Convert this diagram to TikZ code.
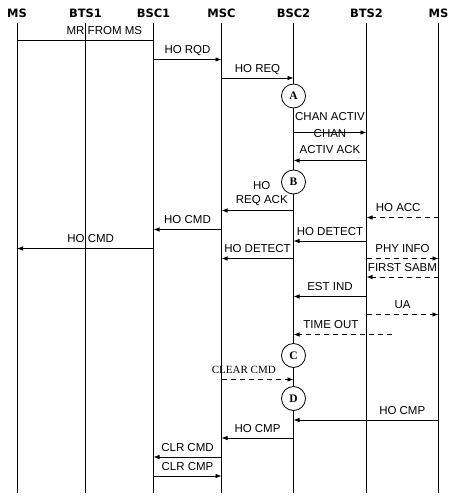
\documentclass[tikz,border=0pt]{standalone}
\usepackage{fontspec}
\setmainfont{Liberation Sans}
\newfontfamily\headfont{DejaVu Sans}
\newfontfamily\seriffont{Liberation Serif}
\usetikzlibrary{arrows.meta}
\begin{document}
\begin{tikzpicture}[x=1pt,y=-1pt,>={Latex[length=6pt,width=4.5pt]},
    head/.style={font=\headfont\bfseries\fontsize{11.5}{12}\selectfont,inner sep=0pt},
    life/.style={line width=0.8pt},
    msg/.style={line width=0.8pt,->},
    lost/.style={msg,dash pattern=on 5pt off 4pt},
    lbl/.style={above=4.5pt,inner sep=1pt,text depth=0pt,font=\fontsize{11.5}{14}\selectfont},
    twoline/.style={lbl,above=1.5pt,align=center},
    phase/.style={circle,draw,line width=0.8pt,fill=white,minimum size=24pt,inner sep=0pt,
      font=\seriffont\bfseries\fontsize{11.5}{11.5}\selectfont}]
  \fill[white] (0,0) rectangle (457,499);
  \useasboundingbox (0,0) rectangle (457,499);
  % lifelines
  \foreach \n/\x/\t in {ms1/17/MS,bts1/85.5/BTS1,bsc1/153.5/BSC1,msc/221.5/MSC,
      bsc2/293.5/BSC2,bts2/366.5/BTS2,ms2/438.5/MS}{
    \node[head] (h\n) at (\x,13) {\t};
    \coordinate (\n) at (\x,23);
    \coordinate (\n e) at (\x,493);
    \draw[life] (\n) -- (\n e);
  }
  % messages
  \draw[life] (ms1 |- 0,40.5) -- node[lbl,pos=0.64] {MR FROM MS} (bsc1 |- 0,40.5);
  \draw[msg] (bsc1 |- 0,59.5) -- node[lbl] {HO RQD} (msc |- 0,59.5);
  \draw[msg] (msc |- 0,78) -- node[lbl] {HO REQ} (bsc2 |- 0,78);
  \node[phase] (pA) at (bsc2 |- 0,96) {A};
  \draw[msg] (bsc2 |- 0,132.5) -- node[lbl,above=6.5pt] {CHAN ACTIV} (bts2 |- 0,132.5);
  \draw[msg] (bts2 |- 0,160.5) -- node[twoline,font=\fontsize{11.5}{16}\selectfont] {CHAN\\ACTIV ACK} (bsc2 |- 0,160.5);
  \node[phase] (pB) at (bsc2 |- 0,182) {B};
  \draw[msg] (bsc2 |- 0,210.5) -- node[twoline,pos=0.44] {HO\\REQ ACK} (msc |- 0,210.5);
  \draw[lost] (ms2 |- 0,217.5) -- node[lbl,pos=0.56] {HO ACC} (bts2 |- 0,217.5);
  \draw[msg] (msc |- 0,229.5) -- node[lbl] {HO CMD} (bsc1 |- 0,229.5);
  \draw[msg] (bts2 |- 0,241) -- node[lbl] {HO DETECT} (bsc2 |- 0,241);
  \draw[msg] (bsc1 |- 0,248.5) -- node[lbl,pos=0.46] {HO CMD} (ms1 |- 0,248.5);
  \draw[msg] (bsc2 |- 0,258.5) -- node[lbl] {HO DETECT} (msc |- 0,258.5);
  \draw[lost] (bts2 |- 0,258.5) -- node[lbl] {PHY INFO} (ms2 |- 0,258.5);
  \draw[lost] (ms2 |- 0,277) -- node[lbl] {FIRST SABM} (bts2 |- 0,277);
  \draw[msg] (bts2 |- 0,296.5) -- node[lbl] {EST IND} (bsc2 |- 0,296.5);
  \draw[lost] (bts2 |- 0,314.5) -- node[lbl] {UA} (ms2 |- 0,314.5);
  \coordinate (tmr) at (392,334.5);
  \draw[lost] (tmr) -- node[lbl,pos=0.62] {TIME OUT} (bsc2 |- tmr);
  \node[phase] (pC) at (bsc2 |- 0,355.5) {C};
  \draw[lost] (msc |- 0,379.5) -- node[lbl,pos=0.31,font=\seriffont\fontsize{11}{12}\selectfont] {CLEAR CMD} (bsc2 |- 0,379.5);
  \node[phase] (pD) at (bsc2 |- 0,398.5) {D};
  \draw[msg] (ms2 |- 0,420) -- node[lbl,pos=0.25] {HO CMP} (bsc2 |- 0,420);
  \draw[msg] (bsc2 |- 0,438) -- node[lbl] {HO CMP} (msc |- 0,438);
  \draw[msg] (msc |- 0,457) -- node[lbl] {CLR CMD} (bsc1 |- 0,457);
  \draw[msg] (bsc1 |- 0,476) -- node[lbl] {CLR CMP} (msc |- 0,476);
\end{tikzpicture}
\end{document}
